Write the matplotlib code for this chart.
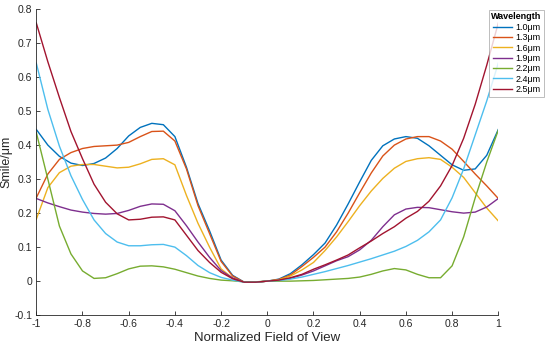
import matplotlib
matplotlib.use("Agg")
import matplotlib.pyplot as plt

plt.rcParams['font.family'] = ['Liberation Sans', 'DejaVu Sans']

# normalized field of view, sampled every 0.05
fov = [-1.0, -0.95, -0.9, -0.85, -0.8, -0.75, -0.7, -0.65, -0.6, -0.55,
       -0.5, -0.45, -0.4, -0.35, -0.3, -0.25, -0.2, -0.15, -0.1, -0.05,
       0.0, 0.05, 0.1, 0.15, 0.2, 0.25, 0.3, 0.35, 0.4, 0.45,
       0.5, 0.55, 0.6, 0.65, 0.7, 0.75, 0.8, 0.85, 0.9, 0.95, 1.0]

smile_10 = [0.446, 0.400, 0.367, 0.347, 0.340, 0.346, 0.362, 0.390, 0.427, 0.452,
            0.464, 0.460, 0.425, 0.335, 0.228, 0.148, 0.062, 0.017, -0.003, -0.003,
            0.0, 0.006, 0.022, 0.048, 0.078, 0.112, 0.165, 0.227, 0.292, 0.355,
            0.398, 0.418, 0.425, 0.420, 0.398, 0.370, 0.342, 0.326, 0.330, 0.370, 0.446]
smile_13 = [0.245, 0.315, 0.358, 0.378, 0.390, 0.396, 0.398, 0.400, 0.408, 0.425,
            0.440, 0.441, 0.412, 0.330, 0.222, 0.140, 0.058, 0.015, -0.003, -0.003,
            0.0, 0.005, 0.018, 0.043, 0.070, 0.100, 0.145, 0.200, 0.260, 0.318,
            0.368, 0.400, 0.418, 0.425, 0.425, 0.412, 0.388, 0.352, 0.315, 0.280, 0.243]
smile_16 = [0.182, 0.275, 0.319, 0.338, 0.343, 0.343, 0.338, 0.333, 0.335, 0.345,
            0.358, 0.360, 0.342, 0.252, 0.170, 0.100, 0.036, 0.009, -0.003, -0.003,
            0.0, 0.004, 0.015, 0.033, 0.055, 0.090, 0.130, 0.175, 0.222, 0.265,
            0.302, 0.332, 0.352, 0.360, 0.363, 0.358, 0.335, 0.305, 0.260, 0.215, 0.177]
smile_19 = [0.243, 0.230, 0.219, 0.209, 0.203, 0.199, 0.197, 0.199, 0.208, 0.220,
            0.227, 0.226, 0.207, 0.163, 0.115, 0.070, 0.031, 0.009, -0.003, -0.003,
            0.0, 0.002, 0.008, 0.018, 0.030, 0.045, 0.060, 0.072, 0.092, 0.120,
            0.160, 0.195, 0.212, 0.217, 0.216, 0.210, 0.204, 0.200, 0.203, 0.218, 0.243]
smile_22 = [0.437, 0.300, 0.162, 0.080, 0.030, 0.008, 0.010, 0.022, 0.036, 0.044,
            0.045, 0.042, 0.035, 0.025, 0.015, 0.008, 0.003, 0.001, -0.002, -0.002,
            0.0, 0.0, 0.0, 0.001, 0.002, 0.004, 0.006, 0.008, 0.012, 0.020,
            0.030, 0.037, 0.033, 0.020, 0.010, 0.010, 0.045, 0.130, 0.245, 0.350, 0.444]
smile_24 = [0.641, 0.505, 0.397, 0.310, 0.240, 0.180, 0.140, 0.115, 0.104, 0.104,
            0.107, 0.108, 0.100, 0.075, 0.046, 0.025, 0.011, 0.003, -0.003, -0.003,
            0.0, 0.002, 0.006, 0.012, 0.020, 0.028, 0.037, 0.046, 0.056, 0.066,
            0.077, 0.088, 0.102, 0.120, 0.145, 0.180, 0.245, 0.330, 0.430, 0.530, 0.641]
smile_25 = [0.759, 0.645, 0.540, 0.440, 0.360, 0.285, 0.232, 0.198, 0.180, 0.182,
            0.188, 0.189, 0.180, 0.135, 0.090, 0.055, 0.026, 0.007, -0.003, -0.003,
            0.0, 0.003, 0.010, 0.020, 0.035, 0.048, 0.062, 0.077, 0.098, 0.118,
            0.140, 0.160, 0.185, 0.205, 0.235, 0.280, 0.340, 0.420, 0.520, 0.635, 0.759]

wavelengths = ['1.0μm', '1.3μm', '1.6μm', '1.9μm', '2.2μm', '2.4μm', '2.5μm']
series = [smile_10, smile_13, smile_16, smile_19, smile_22, smile_24, smile_25]
colors = ['#0072BD', '#D95319', '#EDB120', '#7E2F8E', '#77AC30', '#4DBEEE', '#A2142F']

x_ticks = [-1, -0.8, -0.6, -0.4, -0.2, 0, 0.2, 0.4, 0.6, 0.8, 1]
x_tick_labels = ['-1', '-0.8', '-0.6', '-0.4', '-0.2', '0', '0.2', '0.4', '0.6', '0.8', '1']
y_ticks = [-0.1, 0, 0.1, 0.2, 0.3, 0.4, 0.5, 0.6, 0.7, 0.8]
y_tick_labels = ['-0.1', '0', '0.1', '0.2', '0.3', '0.4', '0.5', '0.6', '0.7', '0.8']

fig = plt.figure(figsize=(5.5, 3.49), dpi=100)
ax = fig.add_axes([0.066, 0.097, 0.840, 0.877])

for vals, lab, col in zip(series, wavelengths, colors):
    ax.plot(fov, vals, color=col, lw=1.0, label=lab, solid_joinstyle='round')

ax.set_xlim(-1, 1)
ax.set_ylim(-0.1, 0.8)
ax.set_xticks(x_ticks)
ax.set_xticklabels(x_tick_labels)
ax.set_yticks(y_ticks)
ax.set_yticklabels(y_tick_labels)

ax.spines['top'].set_visible(False)
ax.spines['right'].set_visible(False)
for s in ['left', 'bottom']:
    ax.spines[s].set_color('#262626')
    ax.spines[s].set_linewidth(0.6)
ax.tick_params(direction='in', length=3, width=0.6, colors='#262626',
               labelsize=7.5, pad=3)

ax.set_xlabel('Normalized Field of View', fontsize=9.5, color='#262626', labelpad=2)
ax.set_ylabel('Smile/μm', fontsize=9, color='#262626', labelpad=1)

leg = fig.legend(loc='upper right', bbox_to_anchor=(0.998, 0.985),
                 fontsize=6.5, title='Wavelength',
                 title_fontproperties={'weight': 'bold', 'size': 6.5},
                 handlelength=2.2, handletextpad=0.3, labelspacing=0.15,
                 borderpad=0.3, frameon=True, fancybox=False)
leg.get_frame().set_edgecolor('#a0a0a0')
leg.get_frame().set_linewidth(0.6)

fig.savefig('out.png', dpi=100)
